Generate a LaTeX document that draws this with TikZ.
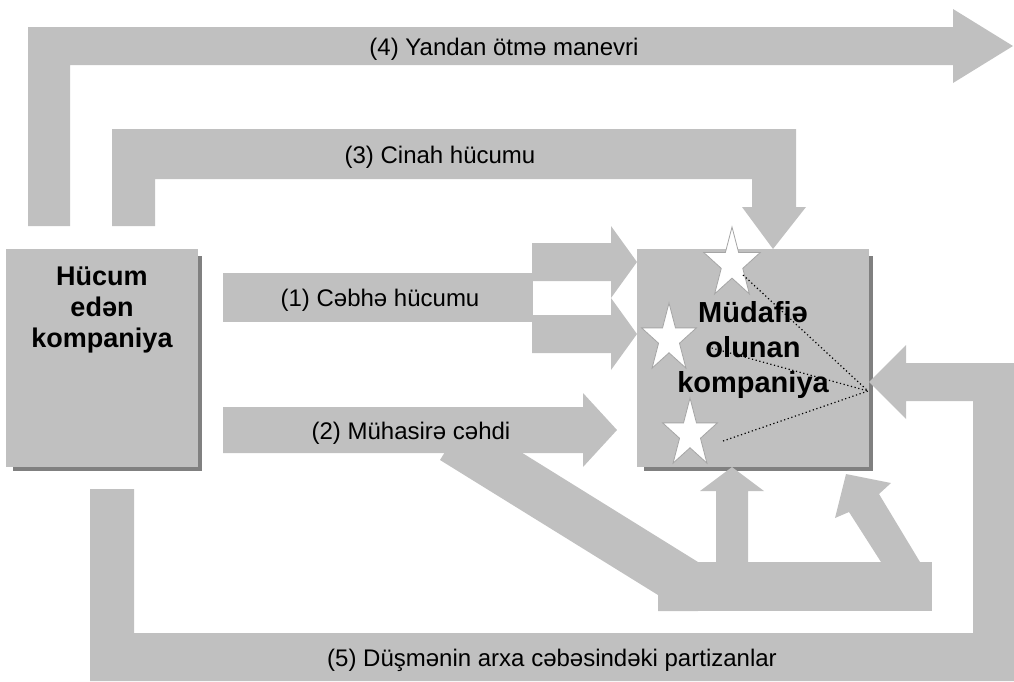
\documentclass[tikz,border=0pt]{standalone}
\usepackage{fontspec}
\setmainfont{Liberation Sans}
\usetikzlibrary{calc,backgrounds}
\definecolor{panelgrey}{RGB}{192,192,192}
\definecolor{shadowgrey}{RGB}{128,128,128}
\definecolor{starline}{RGB}{165,165,165}

% white five-pointed star: centre x, centre y, outer radius
\newcommand\fivestar[3]{%
  \filldraw[whitestar, shift={(#1,#2)}, xscale=0.8]
    (-90:#3) \foreach \k [evaluate=\k as \rr using {mod(\k,2)==0 ? #3 : 0.382*#3}] in {1,...,9}{ -- ({-90+36*\k}:\rr) } -- cycle;}

\begin{document}
\begin{tikzpicture}[x=1pt,y=-1pt,
  solidgrey/.style={fill=panelgrey, draw=none},
  company/.style={rectangle, fill=panelgrey, draw=none, inner sep=0pt, anchor=north west},
  boxshadow/.style={fill=shadowgrey},
  arrowtext/.style={font=\fontsize{24}{29}\selectfont, inner sep=0pt, anchor=base},
  companytext/.style={align=center, inner sep=0pt, anchor=base},
  whitestar/.style={fill=white, draw=starline, line width=0.8pt, line join=miter},
  sightline/.style={black, line width=1.2pt, dash pattern=on 1.2pt off 2.6pt}
]
\useasboundingbox (0,0) rectangle (1014,681);

% the two companies
\node[company, minimum width=192pt, minimum height=218pt] (att) at (6,249) {};
\node[company, minimum width=232pt, minimum height=218pt] (def) at (637,249) {};
\begin{pgfonlayer}{background}
  \fill[boxshadow] ($(att.north west)+(7,7)$) rectangle ($(att.south east)+(4,4)$);
  \fill[boxshadow] ($(def.north west)+(7,7)$) rectangle ($(def.south east)+(4,4)$);
\end{pgfonlayer}

% (4) outflanking manoeuvre
\fill[solidgrey] (28,226) -- (28,27) -- (953,27) -- (953,9) -- (1013,46) -- (953,83)
  -- (953,65) -- (70,65) -- (70,226) -- cycle;

% (3) flank attack
\fill[solidgrey] (112,226) -- (112,129) -- (796,129) -- (796,207) -- (806,207)
  -- (773,249) -- (742,207) -- (752,207) -- (752,179) -- (155,179) -- (155,226) -- cycle;

% (1) frontal attack, splitting into two heads
\fill[solidgrey] (223,273) rectangle (533,322);
\fill[solidgrey] (532,243) -- (611,243) -- (611,226) -- (637,262) -- (611,298)
  -- (611,281) -- (532,281) -- cycle;
\fill[solidgrey] (532,315) -- (611,315) -- (611,298) -- (637,334) -- (611,370)
  -- (611,353) -- (532,353) -- cycle;

% (2) encirclement attempt
\fill[solidgrey] (223,407) -- (583,407) -- (583,393) -- (617,430) -- (583,467)
  -- (583,453) -- (223,453) -- cycle;
\fill[solidgrey] (440,460) -- (466,418) -- (698,562) -- (698,611) -- (658,611)
  -- (658,595) -- cycle;
\fill[solidgrey] (658,562) rectangle (932,611);
\fill[solidgrey] (716,565) -- (716,491) -- (700,491) -- (732,467) -- (764,491)
  -- (748,491) -- (748,565) -- cycle;
\fill[solidgrey] (881,565) -- (881,562) -- (849,512) -- (835,518) -- (846,474)
  -- (891,483) -- (879,494) -- (920,562) -- (920,565) -- cycle;

% (5) partisans behind the enemy lines
\fill[solidgrey] (90,489) -- (134,489) -- (134,633) -- (973,633) -- (973,401)
  -- (906,401) -- (906,419) -- (869,382) -- (906,345) -- (906,363) -- (1014,363)
  -- (1014,681) -- (90,681) -- cycle;

% stars on the defending company
\fivestar{732}{264}{37}
\fivestar{669}{339}{36}
\fivestar{690}{434}{36}

% company names (base anchor sits on the last line)
\node[companytext, font=\bfseries\fontsize{27}{31}\selectfont] (attname) at (102,347)
  {Hücum\\edən\\kompaniya};
\node[companytext, font=\bfseries\fontsize{29}{35}\selectfont] (defname) at (753,392)
  {Müdafiə\\olunan\\kompaniya};

% dotted sight lines from the stars
\coordinate (focus) at (868,391);
\coordinate (sA) at (743,275);
\coordinate (sB) at (708,347);
\coordinate (sC) at (723,441);
\draw[sightline] (sA) -- (focus);
\draw[sightline] (sB) -- (focus);
\draw[sightline] (sC) -- (focus);

% arrow captions
\node[arrowtext] (t4) at (504,55) {(4) Yandan ötmə manevri};
\node[arrowtext] (t3) at (440,163) {(3) Cinah hücumu};
\node[arrowtext] (t1) at (380,306) {(1) Cəbhə hücumu};
\node[arrowtext] (t2) at (411,439) {(2) Mühasirə cəhdi};
\node[arrowtext] (t5) at (552,666) {(5) Düşmənin arxa cəbəsindəki partizanlar};
\end{tikzpicture}
\end{document}
